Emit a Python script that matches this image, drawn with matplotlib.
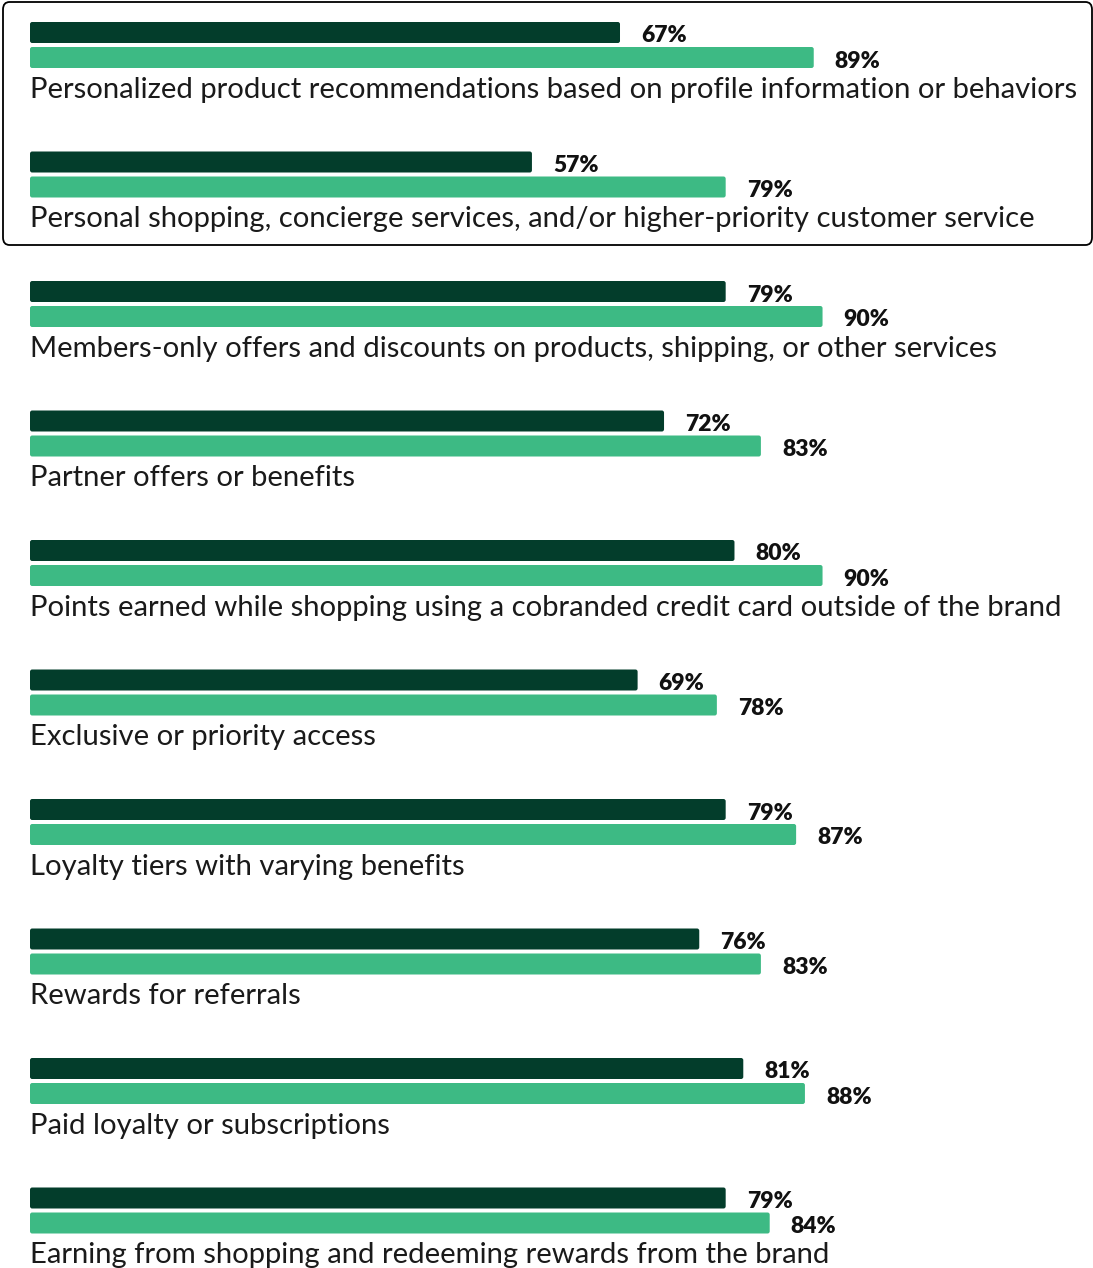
import matplotlib
matplotlib.use("Agg")
import matplotlib.pyplot as plt
from matplotlib.patches import FancyBboxPatch

categories = [
    "Personalized product recommendations based on profile information or behaviors",
    "Personal shopping, concierge services, and/or higher-priority customer service",
    "Members-only offers and discounts on products, shipping, or other services",
    "Partner offers or benefits",
    "Points earned while shopping using a cobranded credit card outside of the brand",
    "Exclusive or priority access",
    "Loyalty tiers with varying benefits",
    "Rewards for referrals",
    "Paid loyalty or subscriptions",
    "Earning from shopping and redeeming rewards from the brand",
]
dark_vals = [67, 57, 79, 72, 80, 69, 79, 76, 81, 79]
green_vals = [89, 79, 90, 83, 90, 78, 87, 83, 88, 84]

DARK = "#033d2b"
GREEN = "#3dba84"
W, H, DPI = 1093, 1268, 100

# layout in pixels
x0 = 30.0          # pixel of 0%
px_per_pct = 8.806
group_step = 129.5
top0 = 22.0
bar_h = 21.0


def round_bars(ax, container, color):
    # swap the plain rectangles for ones with slightly rounded corners
    for r in container.patches:
        x, y = r.get_xy()
        p = FancyBboxPatch((x, y), r.get_width(), r.get_height(),
                           boxstyle="round,pad=0,rounding_size=0.25",
                           mutation_aspect=px_per_pct, color=color, lw=0)
        ax.add_patch(p)
        r.set_visible(False)


plt.rcParams['font.family'] = ['Lato', 'DejaVu Sans']
fig = plt.figure(figsize=(W / DPI, H / DPI), dpi=DPI)
ax = fig.add_axes([0, 0, 1, 1])
ax.set_xlim(-x0 / px_per_pct, (W - x0) / px_per_pct)
ax.set_ylim(H, 0)
ax.axis("off")

for i, (cat, d, g) in enumerate(zip(categories, dark_vals, green_vals)):
    top = top0 + group_step * i
    yd = top + bar_h / 2
    yg = top + 25 + bar_h / 2
    round_bars(ax, ax.barh(yd, d, height=bar_h, color=DARK, left=0), DARK)
    round_bars(ax, ax.barh(yg, g, height=bar_h, color=GREEN, left=0), GREEN)
    ax.text(d + 21 / px_per_pct, yd + 3.5, f"{d}%", fontsize=16.5, fontweight="heavy",
            va="center", ha="left", color="#111111")
    ax.text(g + 21 / px_per_pct, yg + 3.5, f"{g}%", fontsize=16.5, fontweight="heavy",
            va="center", ha="left", color="#111111")
    ax.text(0, top + 76, cat, fontsize=21.1, va="baseline", ha="left", color="#1a1a1a")

box = FancyBboxPatch((3 / W, (H - 245) / H), 1089 / W, 243 / H,
                     boxstyle="round,pad=0,rounding_size=0.006",
                     transform=fig.transFigure, fill=False, edgecolor="black", lw=1.3)
fig.patches.append(box)

fig.savefig("out.png", dpi=DPI)
